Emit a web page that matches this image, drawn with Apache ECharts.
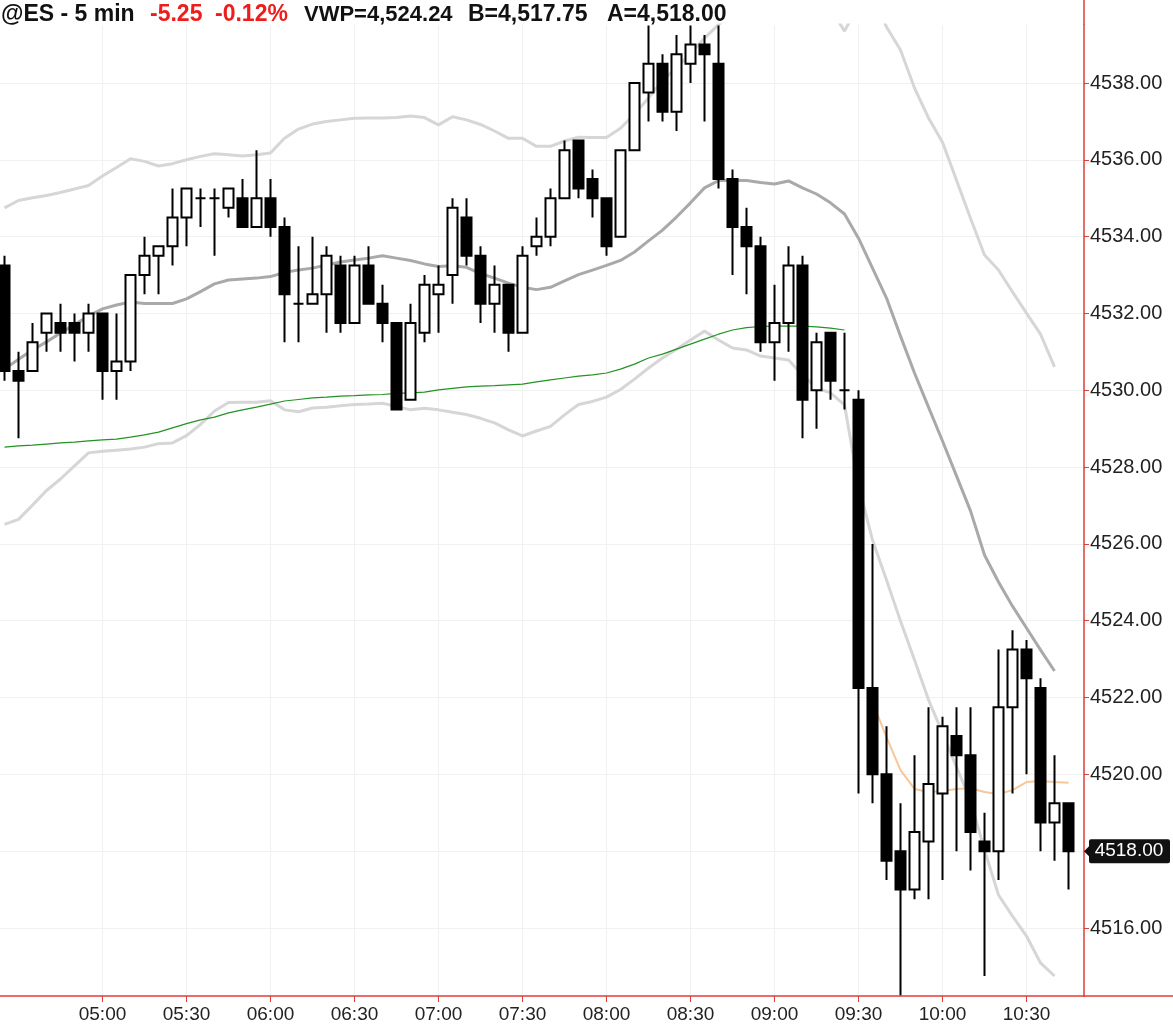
<!DOCTYPE html>
<html><head><meta charset="utf-8">
<script src="https://cdn.jsdelivr.net/npm/echarts@6/dist/echarts.min.js"></script>
<style>html,body{margin:0;padding:0;background:#fff}#c{width:1173px;height:1028px}</style>
</head><body><div id="c"></div>
<script>
// ---- data ----
const times = ['04:25','04:30','04:35','04:40','04:45','04:50','04:55','05:00','05:05','05:10','05:15','05:20','05:25','05:30','05:35','05:40','05:45','05:50','05:55','06:00','06:05','06:10','06:15','06:20','06:25','06:30','06:35','06:40','06:45','06:50','06:55','07:00','07:05','07:10','07:15','07:20','07:25','07:30','07:35','07:40','07:45','07:50','07:55','08:00','08:05','08:10','08:15','08:20','08:25','08:30','08:35','08:40','08:45','08:50','08:55','09:00','09:05','09:10','09:15','09:20','09:25','09:30','09:35','09:40','09:45','09:50','09:55','10:00','10:05','10:10','10:15','10:20','10:25','10:30','10:35','10:40','10:45'];
const opens  = [4533.25,4530.5,4530.5,4531.5,4531.75,4531.75,4531.5,4532.0,4530.5,4530.75,4533.0,4533.5,4533.75,4534.5,4535.0,4535.0,4534.75,4535.0,4534.25,4535.0,4534.25,4532.25,4532.25,4532.5,4533.25,4531.75,4533.25,4532.25,4531.75,4529.75,4531.5,4532.5,4533.0,4534.5,4533.5,4532.25,4532.75,4531.5,4533.75,4534.0,4535.0,4536.5,4535.5,4535.0,4534.0,4536.25,4537.75,4538.5,4537.25,4538.5,4539.0,4538.5,4535.5,4534.25,4533.75,4531.25,4531.75,4533.25,4530.0,4531.5,4530.0,4529.75,4522.25,4520.0,4518.0,4517.0,4518.25,4519.5,4521.0,4520.5,4518.25,4518.0,4521.75,4523.25,4522.25,4518.75,4519.25];
const highs  = [4533.5,4531.0,4531.75,4532.0,4532.25,4532.0,4532.25,4532.0,4532.0,4533.0,4534.0,4533.75,4535.25,4535.25,4535.25,4535.25,4535.25,4535.5,4536.25,4535.5,4534.5,4533.75,4534.0,4533.75,4533.5,4533.5,4533.75,4532.75,4531.75,4532.25,4533.0,4533.25,4535.0,4535.0,4533.75,4533.25,4532.75,4533.75,4534.5,4535.25,4536.5,4536.5,4535.75,4535.0,4536.25,4538.0,4539.5,4538.75,4539.25,4539.5,4539.25,4539.5,4535.75,4534.75,4534.0,4532.75,4533.75,4533.5,4531.5,4531.5,4531.5,4530.0,4526.0,4521.25,4519.25,4520.5,4521.75,4521.5,4521.75,4521.75,4519.0,4523.25,4523.75,4523.5,4522.5,4520.5,4519.25];
const lows   = [4530.25,4528.75,4530.5,4531.0,4531.0,4530.75,4531.0,4529.75,4529.75,4530.5,4532.5,4532.5,4533.25,4533.75,4534.25,4533.5,4534.5,4534.25,4534.25,4534.0,4531.25,4531.25,4532.25,4531.5,4531.5,4531.75,4532.25,4531.25,4529.5,4529.75,4531.25,4531.5,4532.25,4533.25,4531.75,4531.5,4531.0,4531.5,4533.5,4533.75,4535.0,4535.0,4534.5,4533.5,4534.0,4536.25,4537.0,4537.0,4536.75,4538.0,4537.0,4535.25,4533.0,4532.5,4531.0,4530.25,4531.0,4528.75,4529.0,4529.75,4529.5,4519.5,4519.25,4517.25,4514.25,4516.75,4516.75,4517.25,4518.0,4517.5,4514.75,4517.25,4519.5,4520.0,4518.0,4517.75,4517.0];
const closes = [4530.5,4530.25,4531.25,4532.0,4531.5,4531.5,4532.0,4530.5,4530.75,4533.0,4533.5,4533.75,4534.5,4535.25,4535.0,4535.0,4535.25,4534.25,4535.0,4534.25,4532.5,4532.25,4532.5,4533.5,4531.75,4533.25,4532.25,4531.75,4529.5,4531.75,4532.75,4532.75,4534.75,4533.5,4532.25,4532.75,4531.5,4533.5,4534.0,4535.0,4536.25,4535.25,4535.0,4533.75,4536.25,4538.0,4538.5,4537.25,4538.75,4539.0,4538.75,4535.5,4534.25,4533.75,4531.25,4531.75,4533.25,4529.75,4531.25,4530.25,4530.0,4522.25,4520.0,4517.75,4517.0,4518.5,4519.75,4521.25,4520.5,4518.5,4518.0,4521.75,4523.25,4522.5,4518.75,4519.25,4518.0];
// Bollinger bands, 04:25 .. 10:40
const bbUpper = [4534.75,4534.94,4535.01,4535.07,4535.15,4535.24,4535.33,4535.58,4535.80,4536.03,4535.96,4535.84,4535.90,4536.00,4536.09,4536.16,4536.13,4536.10,4536.13,4536.18,4536.56,4536.80,4536.93,4537.00,4537.04,4537.08,4537.09,4537.09,4537.10,4537.14,4537.10,4536.91,4537.12,4537.04,4536.92,4536.75,4536.56,4536.56,4536.35,4536.35,4536.49,4536.59,4536.58,4536.58,4536.82,4537.19,4537.61,4538.07,4538.40,4538.76,4539.17,4539.52,4539.85,4539.87,4539.93,4539.90,4540.03,4540.06,4540.08,4539.95,4539.35,4540.03,4540.27,4539.46,4538.86,4537.87,4537.09,4536.46,4535.47,4534.48,4533.52,4533.13,4532.56,4532.01,4531.46,4530.61];
const bbMid = [4530.55,4530.81,4531.05,4531.26,4531.49,4531.71,4531.93,4532.12,4532.22,4532.30,4532.26,4532.26,4532.26,4532.38,4532.57,4532.77,4532.87,4532.90,4532.92,4532.96,4533.07,4533.13,4533.18,4533.26,4533.34,4533.39,4533.44,4533.50,4533.44,4533.38,4533.29,4533.22,4533.24,4533.20,4533.04,4532.92,4532.79,4532.68,4532.62,4532.68,4532.85,4533.01,4533.13,4533.25,4533.38,4533.60,4533.89,4534.17,4534.51,4534.88,4535.27,4535.46,4535.47,4535.46,4535.41,4535.37,4535.45,4535.27,4535.11,4534.88,4534.59,4533.96,4533.18,4532.40,4531.41,4530.45,4529.56,4528.68,4527.77,4526.86,4525.71,4525.01,4524.38,4523.81,4523.24,4522.69];
const bbLower = [4526.51,4526.64,4527.01,4527.39,4527.69,4528.03,4528.37,4528.41,4528.44,4528.47,4528.52,4528.61,4528.63,4528.82,4529.11,4529.46,4529.68,4529.69,4529.69,4529.73,4529.49,4529.44,4529.54,4529.56,4529.60,4529.63,4529.64,4529.66,4529.58,4529.49,4529.53,4529.49,4529.43,4529.37,4529.27,4529.15,4528.97,4528.81,4528.94,4529.06,4529.36,4529.63,4529.71,4529.82,4530.02,4530.29,4530.58,4530.84,4531.07,4531.31,4531.54,4531.31,4531.10,4531.05,4530.89,4530.84,4530.79,4530.40,4530.06,4529.93,4529.62,4527.53,4526.10,4525.06,4523.99,4522.98,4521.94,4521.08,4520.19,4519.33,4518.03,4516.86,4516.31,4515.79,4515.09,4514.75];
// VWAP of overnight session, 04:25 .. 09:25
const vwapNight = [4528.52,4528.55,4528.57,4528.60,4528.63,4528.65,4528.68,4528.71,4528.73,4528.78,4528.84,4528.91,4529.02,4529.13,4529.23,4529.30,4529.41,4529.49,4529.56,4529.64,4529.72,4529.76,4529.80,4529.82,4529.85,4529.86,4529.88,4529.89,4529.92,4529.93,4529.95,4530.01,4530.05,4530.09,4530.11,4530.12,4530.14,4530.16,4530.22,4530.27,4530.32,4530.37,4530.40,4530.45,4530.55,4530.68,4530.84,4530.94,4531.07,4531.20,4531.33,4531.46,4531.57,4531.63,4531.66,4531.67,4531.67,4531.67,4531.65,4531.62,4531.57];
// VWAP of day session, 09:35 .. 10:45
const vwapDayStart = '09:35';
const vwapDay = [4521.88,4520.97,4520.11,4519.62,4519.54,4519.57,4519.62,4519.64,4519.54,4519.49,4519.59,4519.80,4519.83,4519.80,4519.78];
const xTickLabels = ['05:00','05:30','06:00','06:30','07:00','07:30','08:00','08:30','09:00','09:30','10:00','10:30'];
const yTickValues = [4516,4518,4520,4522,4524,4526,4528,4530,4532,4534,4536,4538];
const headerTexts = ['@ES - 5 min', '-5.25', '-0.12%', 'VWP=4,524.24', 'B=4,517.75', 'A=4,518.00'];
const headerRed = [false, true, true, false, false, false];

// ---- helpers ----
const toMin = s => { const p = s.split(':'); return (+p[0]) * 60 + (+p[1]); };
const fmtTime = v => { const h = Math.floor(v / 60), m = Math.round(v % 60); return String(h).padStart(2,'0') + ':' + String(m).padStart(2,'0'); };
const xs = times.map(toMin);
const candle = xs.map((x, i) => [x, opens[i], closes[i], lows[i], highs[i]]);
const pairs = (arr, start) => arr.map((v, i) => [xs[start + i], v]);
const dayStart = times.indexOf(vwapDayStart);

const FONT = "'Liberation Sans', Arial, sans-serif";
const RED = '#e23b3b';
// pixel mapping: 5 min = 14 px; 04:25 bar centre at x=4.5 px; grid 0..1084
const pxPerMin = 14 / 5;
const xMin = xs[0] - 4.5 / pxPerMin;
const xMax = xMin + 1084 / pxPerMin;
const yMin = 4516 - 68 / 38.41;
const yMax = 4538 + 58 / 38.41;
const lastClose = closes[closes.length - 1];
const headerLeft = [1, 150, 215, 304, 468, 607];

const chart = echarts.init(document.getElementById('c'), null, {renderer: 'canvas'});
chart.setOption({
  animation: false,
  backgroundColor: '#fff',
  title: headerTexts.map((t, i) => ({
    left: headerLeft[i], top: 2, padding: 0, itemGap: 0,
    text: t,
    textStyle: {fontFamily: FONT, fontWeight: 'bold', fontSize: i === 3 ? 22 : 23, color: headerRed[i] ? '#ee1c1c' : '#111', lineHeight: 26}
  })),
  grid: {left: 0, right: 89, top: 25, bottom: 32, containLabel: false},
  xAxis: {
    type: 'value', min: xMin, max: xMax,
    axisLine: {show: true, lineStyle: {color: RED, width: 1.5}},
    axisTick: {show: true, length: 6, lineStyle: {color: RED}, customValues: xTickLabels.map(toMin)},
    axisLabel: {customValues: xTickLabels.map(toMin), formatter: v => fmtTime(v), fontFamily: FONT, fontSize: 19, color: '#222', margin: 9},
    splitLine: {show: true, lineStyle: {color: '#f1f1f1', width: 1}}
  },
  yAxis: {
    type: 'value', position: 'right', min: yMin, max: yMax, scale: true,
    axisLine: {show: true, lineStyle: {color: RED, width: 1.5}},
    axisTick: {show: true, length: 5, lineStyle: {color: RED}, customValues: yTickValues},
    axisLabel: {customValues: yTickValues, formatter: v => v.toFixed(2), fontFamily: FONT, fontSize: 20, color: '#222', margin: 6},
    splitLine: {show: true, lineStyle: {color: '#f1f1f1', width: 1}}
  },
  series: [
    {type: 'line', data: pairs(bbUpper, 0), showSymbol: false, symbol: 'none', lineStyle: {color: '#d6d6d6', width: 3}, z: 2},
    {type: 'line', data: pairs(bbLower, 0), showSymbol: false, symbol: 'none', lineStyle: {color: '#d6d6d6', width: 3}, z: 2},
    {type: 'line', data: pairs(bbMid, 0), showSymbol: false, symbol: 'none', lineStyle: {color: '#a9a9a9', width: 3}, z: 2},
    {type: 'line', data: pairs(vwapNight, 0), showSymbol: false, symbol: 'none', lineStyle: {color: '#249224', width: 1.2}, z: 3},
    {type: 'line', data: pairs(vwapDay, dayStart), showSymbol: false, symbol: 'none', lineStyle: {color: '#f7c79a', width: 2}, z: 3},
    {
      type: 'candlestick', data: candle, barWidth: 10, z: 5,
      itemStyle: {color: '#ffffff', color0: '#000000', borderColor: '#000000', borderColor0: '#000000', borderColorDoji: '#000000', borderWidth: 2},
      markPoint: {
        silent: true, animation: false,
        data: [{coord: [xMax, lastClose], value: lastClose}],
        symbol: 'path://M0,12L5,7L5,2Q5,0 7,0L84,0Q86,0 86,2L86,22Q86,24 84,24L7,24Q5,24 5,22L5,17Z',
        symbolSize: [86, 24], symbolOffset: [43, 0],
        itemStyle: {color: '#111'},
        label: {show: true, position: 'inside', offset: [2, 0], formatter: p => p.value.toFixed(2), color: '#fff', fontFamily: FONT, fontSize: 19}
      }
    }
  ],
  graphic: [
    {type: 'line', shape: {x1: 1084, y1: 0, x2: 1084, y2: 25}, style: {stroke: RED, lineWidth: 1.5}, silent: true},
    {type: 'line', shape: {x1: 1084, y1: 996, x2: 1173, y2: 996}, style: {stroke: RED, lineWidth: 1.5}, silent: true}
  ]
});
</script></body></html>
